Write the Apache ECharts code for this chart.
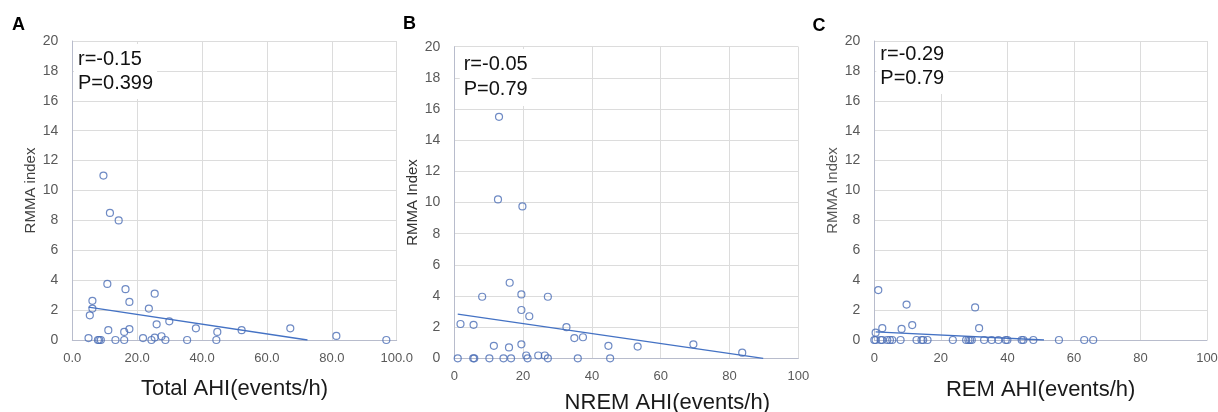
<!DOCTYPE html>
<html>
<head>
<meta charset="utf-8">
<script src="https://cdn.jsdelivr.net/npm/echarts@6/dist/echarts.min.js"></script>
<style>
  html, body { margin: 0; padding: 0; background: #fff; }
  #chart { width: 1218px; height: 412px; }
</style>
</head>
<body>
<div id="chart"></div>
<script>
// panel A: total AHI vs RMMA index
const totalAhi = [9.6, 11.6, 14.3, 10.8, 16.4, 25.4, 6.2, 17.6, 6.2, 23.6, 5.4, 26.0, 29.9, 11.1, 17.6, 16.0, 38.1, 44.7, 52.2, 67.2, 81.4, 96.8, 5.0, 7.9, 8.3, 8.8, 13.3, 16.0, 21.8, 24.4, 25.4, 27.5, 28.7, 35.4, 44.4]
const rmmaA = [11.0, 8.5, 8.0, 3.75, 3.4, 3.1, 2.62, 2.55, 2.1, 2.1, 1.65, 1.05, 1.25, 0.66, 0.73, 0.54, 0.78, 0.54, 0.66, 0.78, 0.27, 0, 0.13, 0, 0, 0, 0, 0, 0.13, 0, 0.16, 0.25, 0, 0, 0]
const trendA = [[5.0, 2.2], [72.5, 0]]

// panel B: NREM AHI vs RMMA index
const nremAhi = [13.0, 12.7, 19.8, 16.1, 8.1, 19.5, 27.2, 19.5, 21.8, 1.8, 5.6, 32.6, 34.9, 37.4, 11.5, 15.9, 19.5, 44.8, 53.3, 69.5, 83.7, 1.0, 5.5, 5.8, 10.2, 14.3, 16.5, 20.9, 21.3, 24.4, 26.3, 27.2, 35.9, 45.3]
const rmmaB = [15.5, 10.2, 9.75, 4.85, 3.95, 4.1, 3.95, 3.1, 2.7, 2.2, 2.15, 2.0, 1.3, 1.35, 0.8, 0.7, 0.9, 0.8, 0.75, 0.9, 0.36, 0, 0, 0, 0, 0, 0, 0.18, 0, 0.18, 0.18, 0, 0, 0]
const trendB = [[1.0, 2.83], [89.8, 0]]

// panel C: REM AHI vs RMMA index
const remAhi = [1.2, 9.7, 30.3, 11.4, 2.4, 8.2, 31.5, 0.4, 0, 0.4, 1.9, 2.4, 3.9, 4.7, 5.4, 7.9, 12.7, 14.2, 14.7, 16.0, 23.6, 27.6, 28.3, 28.8, 29.3, 33.0, 35.3, 37.3, 39.5, 40.0, 44.3, 44.8, 47.8, 55.5, 63.1, 65.8]
const rmmaC = [3.34, 2.37, 2.18, 1.0, 0.79, 0.74, 0.79, 0.49, 0, 0, 0, 0, 0, 0, 0, 0, 0, 0, 0, 0, 0, 0, 0, 0, 0, 0, 0, 0, 0, 0, 0, 0, 0, 0, 0, 0]
const trendC = [[0.4, 0.55], [51, 0]]

const statsA = ['r=-0.15', 'P=0.399']
const statsB = ['r=-0.05', 'P=0.79']
const statsC = ['r=-0.29', 'P=0.79']

const FONT = '"Liberation Sans", Arial, sans-serif'
const pairs = (xs, ys) => xs.map((x, i) => [x, ys[i]])

function xAxis(idx, name, fmt, nameGap, namePad) {
  return {
    gridIndex: idx,
    type: 'value',
    min: 0,
    max: 100,
    interval: 20,
    name: name,
    nameLocation: 'middle',
    nameGap: nameGap,
    nameTextStyle: { fontSize: 22, color: '#1a1a1a', fontFamily: FONT, padding: namePad || 0 },
    axisLine: { show: true, lineStyle: { color: '#b8bccc', width: 1 } },
    axisTick: { show: false },
    splitLine: { show: true, lineStyle: { color: '#dcdcdc', width: 1 } },
    axisLabel: { fontSize: 13, color: '#595959', margin: 12, fontFamily: FONT, formatter: fmt }
  }
}

function yAxis(idx, name, nameColor, nameGap) {
  return {
    gridIndex: idx,
    type: 'value',
    min: 0,
    max: 20,
    interval: 2,
    name: name,
    nameLocation: 'middle',
    nameGap: nameGap,
    nameTextStyle: { fontSize: 15, color: nameColor, fontFamily: FONT },
    axisLine: { show: true, lineStyle: { color: '#b8bccc', width: 1 } },
    axisTick: { show: false },
    splitLine: { show: true, lineStyle: { color: '#dcdcdc', width: 1 } },
    axisLabel: { fontSize: 14, color: '#595959', margin: 14, fontFamily: FONT }
  }
}

function scatter(idx, data) {
  return {
    type: 'scatter',
    xAxisIndex: idx,
    yAxisIndex: idx,
    data: data,
    symbol: 'circle',
    symbolSize: 7,
    itemStyle: { color: 'rgba(0,0,0,0)', borderColor: '#4a6db5', borderWidth: 1.2 },
    z: 3
  }
}

function trend(idx, data) {
  return {
    type: 'line',
    xAxisIndex: idx,
    yAxisIndex: idx,
    data: data,
    symbol: 'none',
    lineStyle: { color: '#4472c4', width: 1.3 },
    z: 2
  }
}

function statsBox(x, y, lines, lh, padTop) {
  return {
    type: 'text',
    left: x,
    top: y,
    z: 10,
    style: {
      text: lines.join('\n'),
      font: '20px ' + FONT,
      fill: '#111',
      lineHeight: lh,
      backgroundColor: '#fff',
      padding: [padTop, 4, 4, 4]
    }
  }
}

function letter(x, y, t) {
  return {
    type: 'text',
    left: x,
    top: y,
    style: { text: t, font: 'bold 18px ' + FONT, fill: '#000' }
  }
}

const option = {
  backgroundColor: '#fff',
  animation: false,
  textStyle: { fontFamily: FONT },
  grid: [
    { left: 72.3, top: 41, width: 324.4, height: 299, outerBoundsMode: 'none' },
    { left: 454.3, top: 46.7, width: 344, height: 311.6, outerBoundsMode: 'none' },
    { left: 874.3, top: 41, width: 332.7, height: 299, outerBoundsMode: 'none' }
  ],
  xAxis: [
    xAxis(0, 'Total AHI(events/h)', v => v.toFixed(1), 38),
    xAxis(1, 'NREM AHI(events/h)', v => String(v), 34, [0, 0, 0, 82]),
    xAxis(2, 'REM AHI(events/h)', v => String(v), 39)
  ],
  yAxis: [
    yAxis(0, 'RMMA index', '#404040', 33),
    yAxis(1, 'RMMA Index', '#333', 33),
    yAxis(2, 'RMMA Index', '#595959', 32)
  ],
  series: [
    scatter(0, pairs(totalAhi, rmmaA)),
    trend(0, trendA),
    scatter(1, pairs(nremAhi, rmmaB)),
    trend(1, trendB),
    scatter(2, pairs(remAhi, rmmaC)),
    trend(2, trendC)
  ],
  graphic: [
    statsBox(74, 44, statsA, 24, 3),
    statsBox(459.7, 49, statsB, 25, 3),
    statsBox(876.3, 42, statsC, 24, 0),
    letter(12, 16, 'A'),
    letter(403, 15, 'B'),
    letter(812.5, 17, 'C')
  ]
}

const chart = echarts.init(document.getElementById('chart'))
chart.setOption(option)
</script>
</body>
</html>
